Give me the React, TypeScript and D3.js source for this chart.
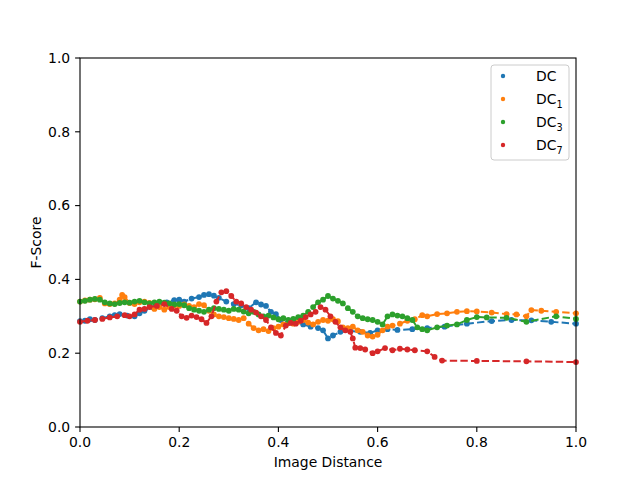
import React from 'react';
import * as d3 from 'd3';

// Series (x = image distance, y = F-score)
const DC_X = [0, 0.01, 0.02, 0.03, 0.045, 0.06, 0.07, 0.08, 0.095, 0.11, 0.12, 0.13, 0.145, 0.16, 0.175, 0.19, 0.2, 0.21, 0.225, 0.24, 0.25, 0.26, 0.27, 0.28, 0.295, 0.31, 0.325, 0.34, 0.355, 0.365, 0.375, 0.385, 0.395, 0.405, 0.42, 0.435, 0.45, 0.465, 0.48, 0.49, 0.5, 0.51, 0.525, 0.545, 0.565, 0.585, 0.6, 0.62, 0.64, 0.67, 0.7, 0.735, 0.78, 0.83, 0.87, 0.91, 0.95, 1.0];
const DC_Y = [0.287, 0.288, 0.292, 0.290, 0.295, 0.300, 0.303, 0.306, 0.302, 0.300, 0.308, 0.315, 0.325, 0.330, 0.338, 0.344, 0.345, 0.340, 0.348, 0.352, 0.358, 0.360, 0.356, 0.350, 0.340, 0.333, 0.330, 0.322, 0.338, 0.332, 0.328, 0.312, 0.306, 0.290, 0.282, 0.286, 0.278, 0.272, 0.268, 0.262, 0.240, 0.248, 0.258, 0.260, 0.258, 0.255, 0.262, 0.265, 0.263, 0.265, 0.268, 0.272, 0.280, 0.287, 0.290, 0.289, 0.285, 0.280];

const DC1_X = [0, 0.01, 0.02, 0.03, 0.04, 0.05, 0.06, 0.07, 0.08, 0.085, 0.09, 0.1, 0.11, 0.12, 0.13, 0.14, 0.15, 0.16, 0.17, 0.18, 0.19, 0.2, 0.21, 0.22, 0.23, 0.24, 0.25, 0.26, 0.27, 0.28, 0.29, 0.3, 0.31, 0.32, 0.33, 0.34, 0.35, 0.36, 0.37, 0.38, 0.39, 0.4, 0.41, 0.42, 0.43, 0.44, 0.45, 0.46, 0.47, 0.48, 0.49, 0.5, 0.51, 0.52, 0.53, 0.54, 0.55, 0.56, 0.57, 0.58, 0.59, 0.6, 0.61, 0.62, 0.63, 0.645, 0.66, 0.675, 0.69, 0.7, 0.72, 0.74, 0.76, 0.78, 0.8, 0.83, 0.86, 0.88, 0.9, 0.91, 0.93, 0.96, 1.0];
const DC1_Y = [0.340, 0.343, 0.345, 0.346, 0.350, 0.335, 0.333, 0.335, 0.345, 0.358, 0.352, 0.336, 0.333, 0.338, 0.340, 0.336, 0.320, 0.325, 0.318, 0.325, 0.330, 0.328, 0.332, 0.328, 0.325, 0.333, 0.330, 0.315, 0.305, 0.300, 0.298, 0.295, 0.293, 0.290, 0.295, 0.280, 0.268, 0.262, 0.265, 0.260, 0.268, 0.272, 0.278, 0.282, 0.280, 0.285, 0.290, 0.283, 0.278, 0.285, 0.290, 0.288, 0.292, 0.287, 0.270, 0.268, 0.272, 0.262, 0.258, 0.248, 0.245, 0.250, 0.262, 0.272, 0.275, 0.280, 0.288, 0.292, 0.303, 0.300, 0.306, 0.308, 0.312, 0.314, 0.313, 0.310, 0.306, 0.305, 0.300, 0.317, 0.315, 0.312, 0.308];

const DC3_X = [0, 0.01, 0.02, 0.03, 0.04, 0.05, 0.06, 0.07, 0.08, 0.09, 0.1, 0.11, 0.12, 0.13, 0.14, 0.15, 0.16, 0.17, 0.18, 0.19, 0.2, 0.21, 0.22, 0.23, 0.24, 0.25, 0.26, 0.27, 0.28, 0.29, 0.3, 0.31, 0.32, 0.33, 0.34, 0.35, 0.36, 0.37, 0.38, 0.39, 0.4, 0.41, 0.42, 0.43, 0.44, 0.45, 0.46, 0.47, 0.48, 0.49, 0.5, 0.51, 0.52, 0.53, 0.54, 0.55, 0.56, 0.57, 0.58, 0.59, 0.6, 0.61, 0.62, 0.63, 0.64, 0.65, 0.66, 0.67, 0.68, 0.69, 0.7, 0.72, 0.74, 0.76, 0.78, 0.8, 0.82, 0.86, 0.9, 0.96, 1.0];
const DC3_Y = [0.340, 0.342, 0.345, 0.347, 0.345, 0.338, 0.335, 0.333, 0.336, 0.338, 0.337, 0.340, 0.342, 0.338, 0.335, 0.338, 0.340, 0.337, 0.335, 0.332, 0.333, 0.330, 0.322, 0.318, 0.315, 0.312, 0.318, 0.322, 0.320, 0.318, 0.315, 0.320, 0.318, 0.313, 0.308, 0.312, 0.305, 0.300, 0.302, 0.297, 0.292, 0.295, 0.290, 0.293, 0.298, 0.302, 0.312, 0.325, 0.338, 0.345, 0.355, 0.348, 0.342, 0.335, 0.322, 0.312, 0.300, 0.295, 0.292, 0.290, 0.285, 0.278, 0.300, 0.305, 0.302, 0.300, 0.295, 0.290, 0.270, 0.265, 0.262, 0.270, 0.275, 0.278, 0.290, 0.298, 0.297, 0.296, 0.285, 0.300, 0.293];

const DC7_X = [0, 0.015, 0.03, 0.045, 0.06, 0.075, 0.09, 0.1, 0.11, 0.12, 0.13, 0.14, 0.155, 0.17, 0.185, 0.195, 0.205, 0.215, 0.225, 0.235, 0.245, 0.255, 0.265, 0.275, 0.285, 0.295, 0.305, 0.315, 0.325, 0.335, 0.345, 0.355, 0.365, 0.375, 0.385, 0.395, 0.405, 0.415, 0.425, 0.435, 0.445, 0.455, 0.465, 0.475, 0.485, 0.495, 0.505, 0.515, 0.525, 0.535, 0.545, 0.55, 0.555, 0.565, 0.575, 0.59, 0.6, 0.615, 0.63, 0.645, 0.66, 0.675, 0.7, 0.715, 0.73, 0.8, 0.9, 1.0];
const DC7_Y = [0.285, 0.288, 0.290, 0.293, 0.297, 0.300, 0.303, 0.300, 0.305, 0.318, 0.320, 0.325, 0.328, 0.333, 0.320, 0.315, 0.300, 0.296, 0.302, 0.298, 0.292, 0.282, 0.300, 0.340, 0.365, 0.368, 0.355, 0.340, 0.335, 0.325, 0.318, 0.310, 0.300, 0.290, 0.270, 0.255, 0.248, 0.275, 0.282, 0.280, 0.288, 0.298, 0.305, 0.312, 0.325, 0.318, 0.300, 0.285, 0.270, 0.262, 0.258, 0.240, 0.215, 0.214, 0.210, 0.200, 0.205, 0.214, 0.208, 0.212, 0.210, 0.208, 0.205, 0.190, 0.180, 0.179, 0.178, 0.176];

const X_TICKS = [0, 0.2, 0.4, 0.6, 0.8, 1.0];
const Y_TICKS = [0, 0.2, 0.4, 0.6, 0.8, 1.0];

const SERIES = [
  { name: 'DC', sub: '', color: '#1f77b4', xs: DC_X, ys: DC_Y },
  { name: 'DC', sub: '1', color: '#ff7f0e', xs: DC1_X, ys: DC1_Y },
  { name: 'DC', sub: '3', color: '#2ca02c', xs: DC3_X, ys: DC3_Y },
  { name: 'DC', sub: '7', color: '#d62728', xs: DC7_X, ys: DC7_Y },
];

const W = 640;
const H = 480;
const M = { left: 80, right: 576, top: 58, bottom: 427 };
const FONT = 'DejaVu Sans, sans-serif';

export default function App() {
  const x = d3.scaleLinear().domain([0, 1]).range([M.left, M.right]);
  const y = d3.scaleLinear().domain([0, 1]).range([M.bottom, M.top]);

  const line = d3.line<[number, number]>()
    .x(d => x(d[0]))
    .y(d => y(d[1]));

  return (
    <svg
      width={W}
      height={H}
      style={{ position: 'absolute', left: 0, top: 0, background: '#fff', fontFamily: FONT }}
    >
      <rect x={0} y={0} width={W} height={H} fill="#fff" />

      {/* Series: dashed line with dot markers */}
      {SERIES.map(s => {
        const pts = s.xs.map((v, i) => [v, s.ys[i]] as [number, number]);
        return (
          <g key={s.name + s.sub}>
            <path
              d={line(pts) ?? ''}
              fill="none"
              stroke={s.color}
              strokeWidth={2}
              strokeDasharray="7.4,3.2"
            />
            {pts.map((p, i) => (
              <circle key={i} cx={x(p[0])} cy={y(p[1])} r={2.9} fill={s.color} />
            ))}
          </g>
        );
      })}

      {/* Frame */}
      <rect
        x={M.left}
        y={M.top}
        width={M.right - M.left}
        height={M.bottom - M.top}
        fill="none"
        stroke="#000"
        strokeWidth={1.1}
      />

      {/* X ticks */}
      {X_TICKS.map(t => (
        <g key={'x' + t}>
          <line x1={x(t)} x2={x(t)} y1={M.bottom} y2={M.bottom + 4.9} stroke="#000" strokeWidth={1.1} />
          <text x={x(t)} y={M.bottom + 20} textAnchor="middle" fontSize={13.9} fill="#000">
            {t.toFixed(1)}
          </text>
        </g>
      ))}

      {/* Y ticks */}
      {Y_TICKS.map(t => (
        <g key={'y' + t}>
          <line x1={M.left - 4.9} x2={M.left} y1={y(t)} y2={y(t)} stroke="#000" strokeWidth={1.1} />
          <text x={M.left - 9.8} y={y(t)} dy="0.35em" textAnchor="end" fontSize={13.9} fill="#000">
            {t.toFixed(1)}
          </text>
        </g>
      ))}

      {/* Axis labels */}
      <text x={(M.left + M.right) / 2} y={467} textAnchor="middle" fontSize={13.9} fill="#000">
        Image Distance
      </text>
      <text
        transform={`translate(41,${(M.top + M.bottom) / 2}) rotate(-90)`}
        textAnchor="middle"
        fontSize={13.9}
        fill="#000"
      >
        F-Score
      </text>

      {/* Legend */}
      <rect x={491} y={65} width={78} height={95} rx={3} fill="#fff" fillOpacity={0.8} stroke="#cccccc" strokeWidth={1} />
      {SERIES.map((s, i) => {
        const ly = 76 + i * 23;
        return (
          <g key={'lg' + i}>
            <circle cx={503} cy={ly} r={2.2} fill={s.color} />
            <text x={536} y={ly} dy="0.35em" fontSize={13.9} fill="#000">
              {s.name}
              {s.sub && (
                <tspan fontSize={9.7} dy={4}>{s.sub}</tspan>
              )}
            </text>
          </g>
        );
      })}
    </svg>
  );
}
